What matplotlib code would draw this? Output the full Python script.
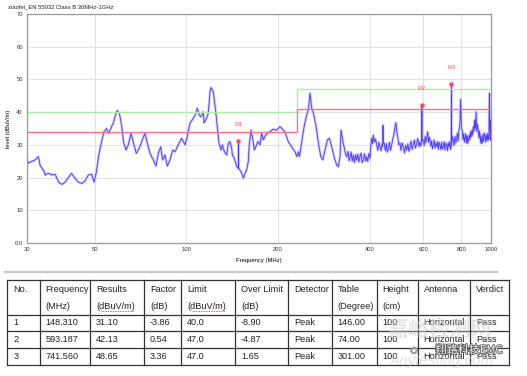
import matplotlib
matplotlib.use('Agg')
import matplotlib.pyplot as plt
import matplotlib.patheffects as pe
from matplotlib.ticker import FixedLocator, NullLocator

plt.rcParams['font.family'] = ['Liberation Sans', 'Noto Sans CJK SC', 'DejaVu Sans']

freq = [30.0, 30.3, 31.1, 31.9, 32.7, 33.1, 34.2, 34.4, 35.3, 36.2, 37.1, 38.1, 39.1, 40.0, 41.0,
        42.0, 43.1, 44.2, 45.4, 46.5, 47.7, 48.9, 49.8, 50.7, 51.6, 52.7, 53.7, 54.7, 55.6, 57.1,
        57.6, 58.3, 59.3, 60.3, 61.4, 62.2, 63.4, 64.5, 65.8, 67.1, 68.5, 70.1, 72.0, 73.2, 74.5,
        76.0, 77.9, 79.5, 80.9, 82.4, 83.6, 85.1, 86.6, 88.4, 90.2, 91.8, 94.1, 96.5, 99.0, 100.7,
        102.8, 105.4, 107.6, 108.6, 110.3, 111.7, 113.7, 114.3, 115.7, 116.9, 118.1, 119.6, 120.5,
        121.7, 122.6, 123.5, 124.9, 126.8, 128.0, 130.0, 131.3, 133.3, 135.7, 137.4, 139.1, 140.9,
        141.6, 143.7, 146.4, 148.1, 148.31, 148.5, 151.3, 154.0, 155.8, 157.8, 159.7, 160.9, 163.0,
        164.7, 167.2, 169.0, 171.7, 174.5, 176.7, 178.9, 182.2, 185.8, 189.7, 193.0, 198.0, 203.0,
        208.2, 210.8, 212.4, 216.1, 221.7, 227.4, 230.4, 233.2, 235.0, 237.5, 242.4, 247.4, 251.8,
        254.7, 258.0, 261.2, 266.6, 271.3, 276.3, 280.5, 285.2, 290.3, 294.7, 300.1, 305.3, 311.6,
        315.4, 319.5, 321.9, 325.1, 330.1, 333.0, 336.1, 339.5, 342.0, 344.5, 347.5, 350.5, 353.3,
        356.5, 359.5, 362.3, 365.5, 368.5, 371.6, 374.5, 377.5, 381.0, 384.5, 387.5, 390.9, 394.0,
        397.5, 400.7, 403.0, 405.9, 408.5, 410.9, 414.0, 417.5, 421.9, 425.0, 428.5, 432.2, 436.0,
        439.0, 441.0, 442.1, 443.2, 446.5, 450.0, 453.5, 456.5, 460.5, 464.5, 468.0, 472.1, 476.0,
        480.0, 484.1, 487.8, 491.0, 494.1, 498.0, 502.7, 506.5, 511.0, 515.6, 520.0, 524.5, 529.2,
        533.5, 538.0, 542.2, 546.5, 551.0, 555.9, 560.5, 565.0, 570.4, 575.0, 580.0, 584.7, 588.5,
        592.0, 593.187, 594.5, 599.7, 603.5, 608.0, 611.5, 615.0, 619.7, 623.5, 627.0, 630.6, 634.5,
        638.5, 642.5, 646.6, 650.5, 655.0, 659.0, 663.5, 667.5, 672.0, 676.0, 680.1, 684.5, 688.5,
        692.5, 697.2, 701.5, 706.0, 710.5, 715.3, 719.5, 723.5, 727.9, 732.0, 736.0, 740.0, 741.56,
        743.0, 747.5, 752.1, 756.5, 761.8, 767.0, 771.8, 776.0, 780.5, 785.1, 790.0, 795.3, 800.0,
        805.0, 809.0, 813.5, 817.5, 821.6, 826.0, 830.5, 835.0, 839.0, 843.0, 847.5, 852.0, 856.5,
        861.0, 865.9, 870.5, 875.0, 879.5, 883.9, 888.5, 893.6, 898.0, 903.0, 908.0, 913.0, 916.5,
        920.4, 924.5, 928.5, 932.5, 936.4, 940.5, 945.0, 950.5, 955.8, 960.0, 964.5, 968.3, 972.5,
        976.5, 980.2, 984.0, 987.8, 991.0, 995.0, 998.0, 1000.0]
level = [25.9, 24.4, 24.9, 25.4, 26.4, 23.8, 21.8, 20.8, 21.3, 20.8, 21.0, 18.6, 17.9, 18.6, 20.0,
         21.3, 19.8, 18.6, 18.2, 19.0, 20.8, 21.0, 18.6, 21.8, 26.9, 31.0, 34.0, 35.0, 33.5, 36.0,
         36.6, 38.6, 40.5, 39.7, 35.6, 31.0, 28.4, 30.0, 33.5, 30.5, 27.4, 29.0, 32.0, 33.5, 30.5,
         27.4, 25.4, 23.5, 27.4, 29.4, 25.4, 26.9, 23.5, 25.4, 28.4, 27.9, 30.0, 32.0, 30.0, 32.5,
         36.6, 38.1, 39.7, 41.2, 39.1, 38.6, 40.1, 36.7, 37.6, 38.5, 39.7, 46.3, 47.5,
         46.8, 46.3, 43.7, 40.1, 34.0, 30.5, 28.4, 30.0, 27.9, 26.9, 30.5, 31.0, 29.0,
         26.9, 25.9, 23.3, 22.8, 31.1, 22.8, 21.8, 19.8, 21.3, 22.3, 24.9, 30.0, 34.5,
         32.5, 28.4, 29.4, 31.0, 30.0, 33.5, 31.5, 33.0, 33.7, 34.3, 34.8, 34.5, 35.6,
         34.5, 34.0, 33.0, 31.0, 29.4, 27.9, 26.4, 27.9, 26.4, 29.0, 34.5, 38.6, 41.2,
         45.8, 41.2, 39.7, 35.6, 30.5, 26.4, 25.4, 28.4, 31.5, 32.0, 29.4, 26.4, 23.8,
         23.3, 26.4, 34.5, 32.0, 29.0, 27.2, 26.4, 28.0, 25.1, 25.9, 27.8, 25.0, 26.9,
         24.6, 27.0, 25.4, 27.2, 24.8, 26.4, 27.5, 24.6, 25.4, 27.3, 25.0, 26.4, 24.9,
         27.4, 25.9, 29.5, 32.0, 30.4, 33.0, 30.9, 31.8, 30.0, 28.3, 30.8, 29.4, 28.2,
         30.3, 29.5, 36.0, 30.5, 30.5, 28.2, 30.4, 27.8, 29.0, 30.8, 28.3, 30.0, 31.8,
         33.2, 35.6, 36.8, 33.8, 32.5, 30.0, 30.5, 28.3, 30.6, 29.4, 27.5, 29.8, 28.4,
         30.3, 28.0, 29.4, 31.2, 28.6, 30.0, 31.5, 29.0, 30.5, 32.0, 29.5, 31.0, 29.6,
         31.0, 42.13, 31.2, 31.5, 29.8, 32.6, 30.7, 32.0, 34.0, 30.8, 32.4, 31.5, 29.6,
         31.2, 28.8, 30.0, 31.5, 29.0, 30.6, 29.4, 31.0, 28.6, 30.8, 30.0, 28.5, 30.8,
         28.8, 29.3, 31.0, 28.4, 30.5, 30.0, 28.2, 30.6, 29.4, 31.0, 28.6, 29.6, 48.65,
         30.0, 32.5, 31.5, 29.8, 32.6, 30.6, 32.0, 33.6, 31.2, 34.5, 36.0, 43.9, 35.0,
         34.5, 31.6, 33.4, 30.8, 32.0, 33.4, 30.6, 32.8, 30.4, 31.5, 33.0, 31.6, 34.0,
         32.4, 34.5, 33.0, 35.6, 34.2, 37.6, 35.0, 40.1, 34.0, 36.2, 34.5, 32.0, 34.2,
         33.0, 30.8, 32.6, 30.4, 31.0, 33.2, 31.0, 33.6, 33.0, 30.8, 32.8, 31.5, 33.5,
         31.2, 33.0, 31.8, 45.8, 36.0, 31.4, 37.6, 32.0]

# ---- limit lines (EN 55032 class B, 3 m) and -6 dB margin ----
limit_freq = [30, 230, 230, 1000]
limit_level = [40, 40, 47, 47]
margin_level = [34, 34, 41, 41]

# ---- markers ----
mk_names = ['M1', 'M2', 'M3']
mk_freq = [148.310, 593.187, 741.560]
mk_level = [31.10, 42.13, 48.65]

x_ticks = [30, 50, 100, 200, 400, 600, 800, 1000]
y_ticks = [0, 10, 20, 30, 40, 50, 60, 70]
y_ticklabels = ['0.0', '10', '20', '30', '40', '50', '60', '70']

# ---- result table ----
col_head1 = ['No.', 'Frequency', 'Results', 'Factor', 'Limit', 'Over Limit', 'Detector', 'Table', 'Height', 'Antenna', 'Verdict']
col_head2 = ['', '(MHz)', '(dBuV/m)', '(dB)', '(dBuV/m)', '(dB)', '', '(Degree)', '(cm)', '', '']
rows = [
    ['1', '148.310', '31.10', '-3.86', '40.0', '-8.90', 'Peak', '146.00', '100', 'Horizontal', 'Pass'],
    ['2', '593.187', '42.13', '0.54', '47.0', '-4.87', 'Peak', '74.00', '100', 'Horizontal', 'Pass'],
    ['3', '741.560', '48.65', '3.36', '47.0', '1.65', 'Peak', '301.00', '100', 'Horizontal', 'Pass'],
]

W, H = 527, 376
fig = plt.figure(figsize=(W/100, H/100), dpi=100)
ax = fig.add_axes([27/W, 1-243/H, 464/W, 229/H])

ax.plot(freq, level, color='#bdb4ff', lw=1.8, alpha=0.75, solid_joinstyle='round')
ax.plot(freq, level, color='#4a3aff', lw=0.6)
ax.plot(limit_freq, limit_level, color='#a6f0a6', lw=1.0)
ax.plot(limit_freq, margin_level, color='#ff6f86', lw=1.0)

for name, f, l in zip(mk_names, mk_freq, mk_level):
    ax.plot(f, l, 'o', color='#ff4a5a', ms=2.2)
    ax.text(f, l+5, name, color='#ff5a6a', fontsize=4.2, ha='center', va='center')

ax.set_xscale('log')
ax.set_xlim(30, 1000)
ax.set_ylim(0, 70)
ax.xaxis.set_major_locator(FixedLocator(x_ticks))
ax.xaxis.set_minor_locator(NullLocator())
ax.set_xticklabels([str(t) for t in x_ticks])
ax.set_yticks(y_ticks)
ax.set_yticklabels(y_ticklabels)
ax.tick_params(length=0, labelsize=4.2, colors='#333333', pad=3)
ax.grid(True, color='#e2e2e2', lw=0.8)
ax.set_axisbelow(True)
for s in ax.spines.values():
    s.set_color('#9a9a9a')
    s.set_linewidth(0.9)
ax.set_xlabel('Frequency (MHz)', fontsize=4.2, labelpad=4)
ax.set_ylabel('level (dBuV/m)', fontsize=4.2, labelpad=3)
fig.text(8/W, 1-7/H, 'xiaofei_EN 55032 Class B 30MHz-1GHz', fontsize=4.2, va='center', color='#222222')

# table drawn on a full-figure overlay in pixel units
tb = fig.add_axes([0, 0, 1, 1])
tb.set_xlim(0, W)
tb.set_ylim(H, 0)
tb.axis('off')
tb.plot([5, 497], [272, 272], color='#c8c8c8', lw=1.6)

col_x = [7.3, 39.5, 90, 144, 181, 235, 288, 331.5, 376.5, 417.5, 470, 508.5]
row_y = [280, 314.5, 331, 348, 365]
for x in col_x:
    tb.plot([x, x], [row_y[0], row_y[-1]], color='#333333', lw=0.9)
for y in row_y:
    tb.plot([col_x[0], col_x[-1]], [y, y], color='#333333', lw=0.9)

fs = 6.6
for i in range(len(col_head1)):
    tx = col_x[i] + 6
    tb.text(tx, 290, col_head1[i], fontsize=fs, va='center', color='#222222')
    if col_head2[i]:
        tb.text(tx, 306.5, col_head2[i], fontsize=fs, va='center', color='#222222')
        if col_head2[i] == '(dBuV/m)':
            tb.plot([tx+5, tx+38], [310.5, 310.5], color='#e03030', lw=0.6, ls=(0, (1, 1)))
for r, row in enumerate(rows):
    yc = (row_y[r+1] + row_y[r+2]) / 2
    for i, val in enumerate(row):
        tb.text(col_x[i] + 6, yc, val, fontsize=fs, va='center', color='#222222')

# watermarks
tb.text(440, 329, '嘉峪检测网', fontsize=15, ha='center', va='center', color='#d0d0d0', alpha=0.55,
        family=['Noto Sans CJK SC', 'DejaVu Sans'], fontweight='bold')
tb.text(442, 361, 'Anytesting.com', fontsize=11, ha='center', va='center', color='#d0d0d0', alpha=0.6,
        style='italic')
wm = tb.text(469, 350, '翔路科技EMC', fontsize=8, ha='center', va='center', color='white',
             family=['Noto Sans CJK SC', 'DejaVu Sans'])
wm.set_path_effects([pe.withStroke(linewidth=1.2, foreground='#555555')])
tb.text(414, 351, '◌', fontsize=9, ha='center', va='center', color='white',
        path_effects=[pe.withStroke(linewidth=1.0, foreground='#888888')])

fig.savefig('out.png', dpi=100)
